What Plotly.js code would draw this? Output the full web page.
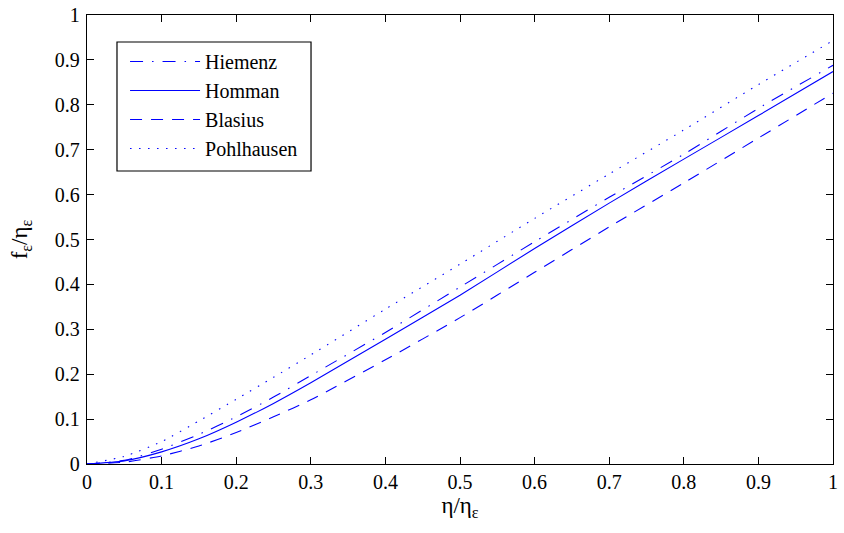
<!DOCTYPE html>
<html>
<head>
<meta charset="utf-8">
<script src="https://cdn.plot.ly/plotly-3.0.1.min.js"></script>
<style>
html,body{margin:0;padding:0;background:#fff;}
#chart{width:844px;height:533px;}
</style>
</head>
<body>
<div id="chart"></div>
<script>
const x = [0, 0.05, 0.1, 0.15, 0.2, 0.25, 0.3, 0.4, 0.5, 0.6, 0.7, 0.8, 0.9, 1.0];
const hiemenz    = [0, 0.008, 0.033, 0.066, 0.105, 0.149, 0.197, 0.293, 0.394, 0.495, 0.594, 0.690, 0.792, 0.888];
const homman     = [0, 0.007, 0.027, 0.056, 0.093, 0.135, 0.181, 0.278, 0.376, 0.480, 0.581, 0.679, 0.776, 0.874];
const blasius    = [0, 0.004, 0.018, 0.040, 0.070, 0.105, 0.143, 0.232, 0.326, 0.427, 0.528, 0.626, 0.726, 0.826];
const pohlhausen = [0, 0.017, 0.050, 0.096, 0.144, 0.193, 0.243, 0.345, 0.445, 0.547, 0.646, 0.744, 0.845, 0.943];
const names = ["Hiemenz", "Homman", "Blasius", "Pohlhausen"];
const tickVals = [0, 0.1, 0.2, 0.3, 0.4, 0.5, 0.6, 0.7, 0.8, 0.9, 1];
const tickText = ["0", "0.1", "0.2", "0.3", "0.4", "0.5", "0.6", "0.7", "0.8", "0.9", "1"];

const series = [hiemenz, homman, blasius, pohlhausen];
const dashes = ["13px,9px,1.5px,9px", "solid", "12px,9px", "1.5px,7.5px"];
const traces = series.map((s, i) => ({
  x: x, y: s, name: names[i], type: "scatter", mode: "lines",
  line: {color: "#0000ff", width: 1.1, dash: dashes[i], shape: "spline", smoothing: 0.6}
}));

const FAM = "Liberation Serif, Times New Roman, serif";
const axisCommon = {
  range: [0, 1], tickvals: tickVals, ticktext: tickText,
  showgrid: false, zeroline: false, showline: true, linecolor: "#000", linewidth: 1.3,
  mirror: "ticks", ticks: "inside", ticklen: 7, tickwidth: 1, tickcolor: "#000",
  tickfont: {family: FAM, size: 20, color: "#000"}
};
const layout = {
  width: 844, height: 533,
  margin: {l: 87, r: 11, t: 15, b: 69},
  paper_bgcolor: "#fff", plot_bgcolor: "#fff",
  font: {family: FAM, size: 20, color: "#000"},
  showlegend: true,
  xaxis: Object.assign({}, axisCommon, {
    ticklabelstandoff: 0,
    title: {text: "η/η<sub>ε</sub>", font: {family: FAM, size: 23, color: "#000"}, standoff: 3}
  }),
  yaxis: Object.assign({}, axisCommon, {
    ticklabelstandoff: 2,
    title: {text: "f<sub>ε</sub>/η<sub>ε</sub>", font: {family: FAM, size: 23, color: "#000"}, standoff: 20}
  }),
  shapes: [{
    type: "rect", xref: "paper", yref: "paper", layer: "above",
    x0: 0.0402, x1: 0.3003, y0: 0.6526, y1: 0.9399,
    line: {color: "#000", width: 1.2}, fillcolor: "rgba(0,0,0,0)"
  }],
  legend: {
    x: 0.051, y: 0.94, xanchor: "left", yanchor: "top",
    borderwidth: 0, bgcolor: "rgba(0,0,0,0)",
    font: {family: FAM, size: 20, color: "#000"},
    itemwidth: 70, tracegroupgap: 0
  }
};
Plotly.newPlot("chart", traces, layout, {displayModeBar: false, staticPlot: true});
</script>
</body>
</html>
